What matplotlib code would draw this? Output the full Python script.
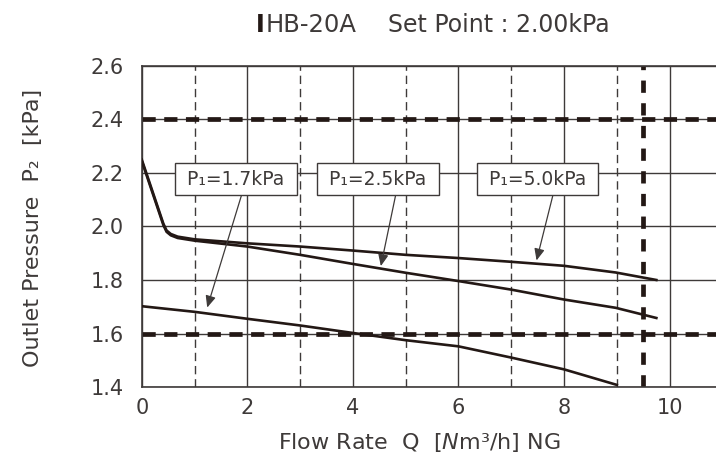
import matplotlib
matplotlib.use("Agg")
import matplotlib.pyplot as plt
from matplotlib.ticker import MultipleLocator

plt.rcParams['font.family'] = ['DejaVu Sans']
plt.rcParams['mathtext.fontset'] = 'dejavusans'

# ---- data ----
flow_50 = [0, 0.41, 0.47, 0.55, 0.68, 1, 2, 3, 4, 5, 6, 7, 8, 8.98, 9.75]
p2_50 = [2.25, 2.01, 1.985, 1.972, 1.962, 1.952, 1.937, 1.925, 1.91, 1.894, 1.882, 1.868, 1.853, 1.828, 1.80]

flow_25 = [0, 0.41, 0.47, 0.55, 0.68, 1, 2, 3, 4, 5, 6, 7, 8, 8.98, 9.75]
p2_25 = [2.245, 2.005, 1.980, 1.967, 1.957, 1.947, 1.925, 1.894, 1.86, 1.827, 1.796, 1.764, 1.727, 1.696, 1.658]

flow_17 = [0, 1, 2, 3, 4, 5, 6, 7, 8, 9]
p2_17 = [1.702, 1.681, 1.655, 1.630, 1.602, 1.575, 1.552, 1.510, 1.466, 1.408]

labels = ["P₁=1.7kPa", "P₁=2.5kPa", "P₁=5.0kPa"]
label_x = [1.78, 4.47, 7.50]
label_y = 2.177
arrow_from = [(1.89, 2.117), (4.81, 2.117), (7.79, 2.117)]
arrow_to = [(1.24, 1.697), (4.53, 1.852), (7.48, 1.873)]

set_lines_y = [2.4, 1.6]
max_flow = 9.5

x_ticks = [0, 2, 4, 6, 8, 10]
y_ticks = [1.4, 1.6, 1.8, 2.0, 2.2, 2.4, 2.6]

ink = '#231815'
grid_c = '#3e3a39'
text_c = '#3e3a39'

fig = plt.figure(figsize=(7.16, 4.66), dpi=100)
ax = fig.add_axes([0.198, 0.1695, 0.802, 0.689])
ax.set_xlim(0, 10.88)
ax.set_ylim(1.4, 2.6)

ax.set_xticks(x_ticks)
ax.set_yticks(y_ticks)
ax.set_yticklabels([f"{v:.1f}" for v in y_ticks])
ax.xaxis.set_minor_locator(MultipleLocator(1))
ax.tick_params(which='both', length=0, labelsize=15, labelcolor=text_c)
ax.tick_params(axis='x', pad=8)
ax.tick_params(axis='y', pad=13)

ax.grid(True, which='major', axis='both', color=grid_c, lw=1.0)
ax.grid(True, which='minor', axis='x', color=grid_c, lw=1.0, linestyle=(0, (6, 3.5)))
ax.set_axisbelow(True)

ax.spines['right'].set_visible(False)
for s in ['left', 'bottom', 'top']:
    ax.spines[s].set_color(grid_c)
    ax.spines[s].set_linewidth(1.2)

for yv in set_lines_y:
    ax.axhline(yv, color=ink, lw=3.4, linestyle=(0, (2.8, 1.8)), zorder=2)
ax.axvline(max_flow, color=ink, lw=3.4, linestyle=(0, (2.6, 2.2)), zorder=2)

for fx, py in [(flow_50, p2_50), (flow_25, p2_25), (flow_17, p2_17)]:
    ax.plot(fx, py, color=ink, lw=1.9, zorder=3, solid_joinstyle='round')

for lab, lx, (x0, y0), (x1, y1) in zip(labels, label_x, arrow_from, arrow_to):
    ax.annotate('', xy=(x1, y1), xytext=(x0, y0),
                arrowprops=dict(arrowstyle='-|>,head_length=0.5,head_width=0.22',
                                color=grid_c, lw=0.9,
                                mutation_scale=14, shrinkA=0, shrinkB=0),
                zorder=4)
    ax.text(lx, label_y, " " + lab + " ", ha='center', va='center', fontsize=13.5,
            color=text_c, zorder=5,
            bbox=dict(boxstyle='square,pad=0.33', fc='white', ec=grid_c, lw=1.0))

ax.set_xlabel("Flow Rate  Q  [$\\mathit{N}$m³/h] NG", fontsize=16, color=text_c)
ax.xaxis.set_label_coords(0.483, -0.138)
ax.set_ylabel("Outlet Pressure  P₂  [kPa]", fontsize=16, color=text_c)
ax.yaxis.set_label_coords(-0.172, 0.494)

fig.text(0.357, 0.947, "I", fontsize=17, fontweight='bold', color=ink, ha='left', va='center')
fig.text(0.371, 0.947, "HB-20A", fontsize=17.5, color=text_c, ha='left', va='center')
fig.text(0.542, 0.947, "Set Point : 2.00kPa", fontsize=17, color=text_c, ha='left', va='center')

fig.savefig("out.png", dpi=100)
